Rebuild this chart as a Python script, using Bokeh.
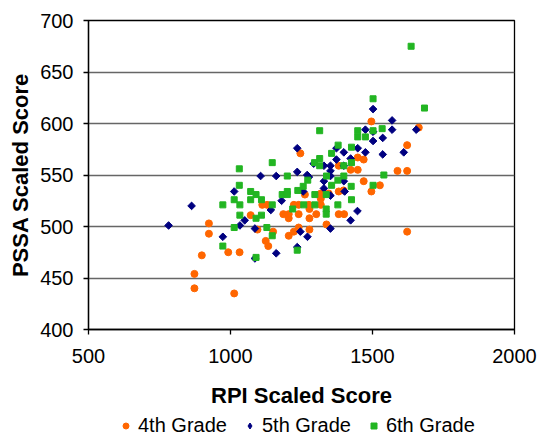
import numpy as np
from bokeh.plotting import figure
from bokeh.layouts import column
from bokeh.models import FixedTicker, Legend, LegendItem, Title
from bokeh.embed import file_html
from bokeh.resources import INLINE

# ---- data ----
grade4_rpi = [924, 924, 899, 873, 873, 1013, 992, 1032, 1071, 1095, 1124, 1133, 1150, 1112, 1129,
              1186, 1205, 1205, 1223, 1240, 1205, 1223, 1240, 1240, 1262, 1276, 1278, 1318, 1318,
              1318, 1278, 1302, 1338, 1278, 1381, 1400, 1496, 1469, 1526, 1381, 1398, 1346, 1622,
              1496, 1663, 1622, 1448, 1469, 1423, 1448, 1588, 1622, 1246, 1381]
grade4_pssa = [503, 493, 472, 454, 440, 435, 475, 475, 511, 497, 486, 481, 495, 521, 521,
               512, 512, 508, 521, 521, 491, 495, 499, 512, 531, 521, 517, 532, 527,
               521, 508, 512, 502, 497, 512, 512, 534, 544, 540, 534, 535, 532, 495,
               602, 596, 579, 567, 565, 555, 555, 554, 554, 571, 559]

grade5_rpi = [782, 863, 973, 1013, 1033, 1050, 1086, 1086, 1106, 1161, 1142, 1161, 1180, 1235,
              1235, 1246, 1235, 1271, 1352, 1423, 1447, 1402, 1352, 1329, 1352, 1399, 1256, 1502,
              1569, 1475, 1502, 1569, 1536, 1502, 1654, 1448, 1475, 1536, 1610, 1373, 1399, 1423,
              1373, 1399, 1352, 1352, 1329, 1293, 1270, 1329, 1276]
grade5_pssa = [501, 520, 490, 534, 501, 506, 498, 469, 549, 549, 516, 474, 525, 553,
               480, 495, 576, 490, 498, 506, 515, 534, 530, 544, 549, 544, 534, 614,
               603, 594, 592, 594, 586, 583, 594, 576, 572, 570, 572, 576, 572, 566,
               565, 559, 559, 554, 559, 561, 550, 537, 548]

grade6_rpi = [1031, 1147, 1200, 1031, 973, 1013, 1033, 1071, 1090, 1071, 1109, 1147, 1182, 1200,
              1200, 1237, 1219, 1033, 1090, 1109, 1013, 1128, 1147, 973, 1090, 1235, 1297, 1337,
              1258, 1297, 1337, 1337, 1378, 1426, 1272, 1338, 1399, 1378, 1356, 1425, 1540, 1502,
              1256, 1636, 1502, 1683, 1314, 1448, 1448, 1475, 1502, 1534, 1379, 1426, 1356, 1296,
              1314, 1314, 1399, 1426]
grade6_pssa = [556, 562, 549, 540, 521, 526, 521, 534, 531, 526, 526, 521, 531, 534,
               531, 535, 517, 511, 508, 511, 499, 499, 491, 481, 470, 477, 531, 531,
               521, 521, 517, 512, 521, 526, 545, 549, 549, 545, 540, 539, 550, 540,
               539, 675, 624, 615, 593, 593, 587, 587, 593, 595, 579, 577, 571, 562,
               566, 559, 559, 562]

x_ticks = [500, 1000, 1500, 2000]
y_ticks = [400, 450, 500, 550, 600, 650, 700]
series_names = ["4th Grade", "5th Grade", "6th Grade"]
x_title = "RPI Scaled Score"
y_title = "PSSA Scaled Score"

FONT = "Liberation Sans"
ORANGE = "#FF6600"
NAVY = "#000080"
GREEN = "#22B522"

p = figure(width=537, height=410, x_range=(500, 2000), y_range=(400, 700),
           output_backend="svg", toolbar_location=None,
           min_border_left=88, min_border_right=23, min_border_top=20, min_border_bottom=80)

p.background_fill_color = "white"
p.border_fill_color = "white"
p.outline_line_color = "black"
p.outline_line_width = 1.3

p.xgrid.visible = False
p.ygrid.grid_line_color = "#666666"
p.ygrid.grid_line_width = 1.3

p.xaxis.ticker = FixedTicker(ticks=x_ticks)
p.yaxis.ticker = FixedTicker(ticks=y_ticks)
for ax in (p.xaxis, p.yaxis):
    ax.axis_line_color = "black"
    ax.axis_line_width = 1.3
    ax.major_tick_line_color = "black"
    ax.major_tick_line_width = 1.3
    ax.major_tick_in = 0
    ax.major_tick_out = 5
    ax.minor_tick_line_color = None
    ax.major_label_text_font = FONT
    ax.major_label_text_font_size = "20px"
    ax.major_label_text_color = "black"

p.xaxis.major_label_standoff = 14
p.xaxis.axis_label = x_title
p.xaxis.axis_label_text_font = FONT
p.xaxis.axis_label_text_font_size = "22px"
p.xaxis.axis_label_text_font_style = "bold"
p.xaxis.axis_label_text_color = "black"
p.xaxis.axis_label_standoff = 17

p.yaxis.major_label_standoff = 10

ytitle = Title(text=y_title, align="center", offset=13, standoff=10, text_font=FONT,
               text_font_size="22px", text_font_style="bold", text_color="black")
p.add_layout(ytitle, "left")

p.scatter(grade4_rpi, grade4_pssa, marker="circle", size=7,
          fill_color=ORANGE, line_color=ORANGE)
p.scatter(grade5_rpi, grade5_pssa, marker="square", size=5.4, angle=np.pi / 4,
          fill_color=NAVY, line_color=NAVY)
p.scatter(grade6_rpi, grade6_pssa, marker="square", size=6,
          fill_color=GREEN, line_color=GREEN)

# ---- legend strip underneath (its series lie outside this strip's ranges, so only the key shows) ----
lg = figure(width=537, height=27, x_range=(0, 1), y_range=(0, 1),
            x_axis_type=None, y_axis_type=None,
            output_backend="svg", toolbar_location=None,
            min_border_left=88, min_border_right=23, min_border_top=0, min_border_bottom=0)
lg.outline_line_color = None
lg.xgrid.visible = False
lg.ygrid.visible = False
lg.background_fill_color = "white"
lg.border_fill_color = "white"
k4 = lg.scatter(grade4_rpi, grade4_pssa, marker="circle", fill_color=ORANGE, line_color=ORANGE)
k5 = lg.scatter(grade5_rpi, grade5_pssa, marker="diamond", fill_color=NAVY, line_color=NAVY)
k6 = lg.scatter(grade6_rpi, grade6_pssa, marker="square", fill_color=GREEN, line_color=GREEN)

legend = Legend(items=[LegendItem(label=series_names[0], renderers=[k4]),
                       LegendItem(label=series_names[1], renderers=[k5]),
                       LegendItem(label=series_names[2], renderers=[k6])],
                orientation="horizontal", location=(30, 0),
                border_line_color=None, background_fill_alpha=0,
                padding=0, margin=0, spacing=15, label_standoff=5,
                glyph_width=15, glyph_height=15,
                label_text_font=FONT, label_text_font_size="20px", label_text_color="black")
lg.add_layout(legend, "center")

open("out.html", "w").write(file_html(column(p, lg, spacing=0), INLINE))
